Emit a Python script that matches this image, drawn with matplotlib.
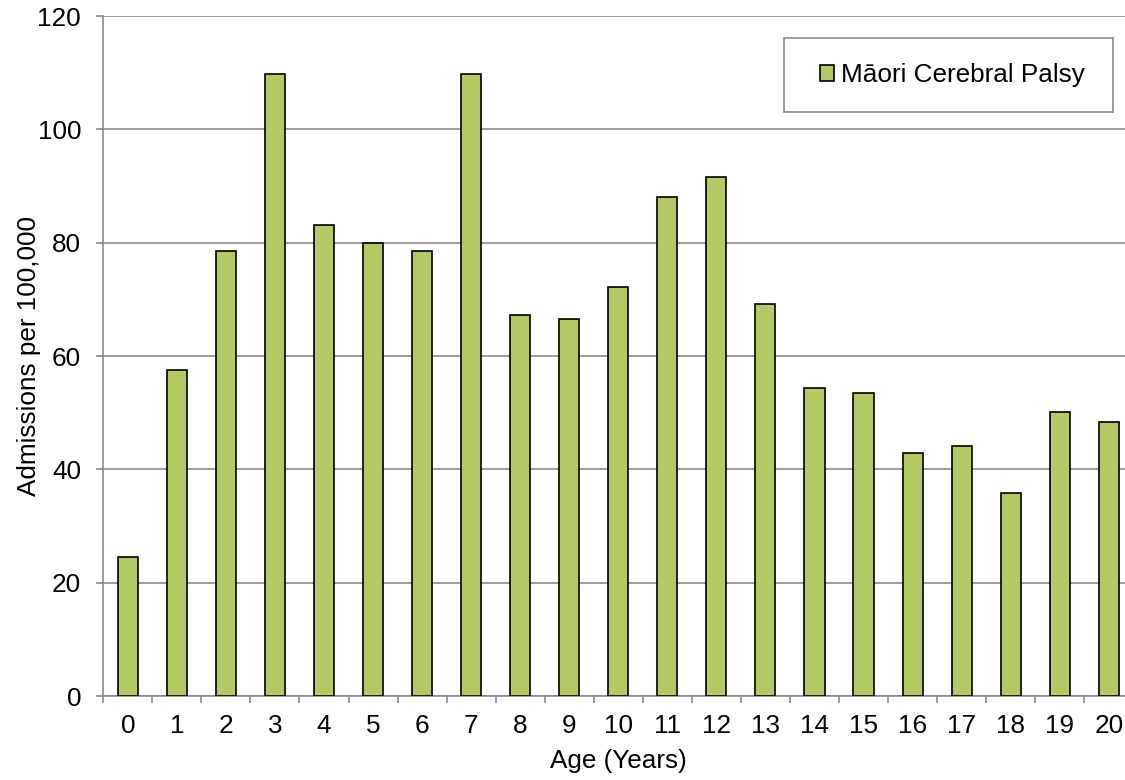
import numpy as np
import matplotlib
matplotlib.use("Agg")
import matplotlib.pyplot as plt
from matplotlib.patches import Rectangle

plt.rcParams['font.family'] = ['Liberation Sans', 'DejaVu Sans']

# Hospital admissions for cerebral palsy, by single year of age
ages = list(range(21))
age_labels = [str(a) for a in ages]
rates = [24.5, 57.5, 78.6, 109.8, 83.1, 80.0, 78.6, 109.8, 67.3, 66.6, 72.2,
         88.1, 91.6, 69.1, 54.4, 53.4, 42.8, 44.2, 35.9, 50.2, 48.4]
series_name = "Māori Cerebral Palsy"

BAR_GREEN = "#B3C964"
GREY = "#898989"
FS = 18.8

W, H = 1125, 780
fig = plt.figure(figsize=(W / 100, H / 100), dpi=100)
ax = fig.add_axes([103.3 / W, 84 / H, 1030 / W, 680 / H])

bars = ax.bar(ages, rates, width=0.41, color=BAR_GREEN, edgecolor="black",
              linewidth=1.2, zorder=3, label=series_name)

ax.set_xlim(-0.5, 20.5)
ax.set_ylim(0, 120)
ax.set_yticks(range(0, 121, 20))
ax.set_xticks(ages)
ax.set_xticklabels(age_labels)
ax.set_xticks(np.arange(-0.5, 21, 1), minor=True)

ax.yaxis.grid(True, color=GREY, linewidth=1.2)
ax.set_axisbelow(True)
for side in ("top", "right"):
    ax.spines[side].set_visible(False)
for side in ("left", "bottom"):
    ax.spines[side].set_color(GREY)
    ax.spines[side].set_linewidth(1.2)

ax.tick_params(axis="y", direction="out", length=5, width=1.2, color=GREY,
               labelsize=FS, pad=11)
ax.tick_params(axis="x", which="major", length=0, labelsize=FS, pad=13)
ax.tick_params(axis="x", which="minor", direction="out", length=5, width=1.2,
               color=GREY)

ax.set_xlabel("Age (Years)", fontsize=FS)
ax.xaxis.set_label_coords(0.5, -0.078)
ax.set_ylabel("Admissions per 100,000", fontsize=FS)
ax.yaxis.set_label_coords(-0.06, 0.5)

# legend: plain grey box with the swatch and series name inside
frame = Rectangle((784 / W, 1 - 111.7 / H), 329 / W, 74 / H,
                  transform=fig.transFigure, facecolor="white",
                  edgecolor=GREY, linewidth=1.2, zorder=5, clip_on=False)
ax.add_patch(frame)
leg = ax.legend(handles=[bars], loc="center left",
                bbox_to_anchor=(820 / W, 1 - 75 / H),
                bbox_transform=fig.transFigure, frameon=False,
                borderpad=0, borderaxespad=0, fontsize=FS,
                handlelength=0.55, handleheight=0.55, handletextpad=0.25)
leg.set_zorder(6)

fig.savefig("out.png", dpi=100)
